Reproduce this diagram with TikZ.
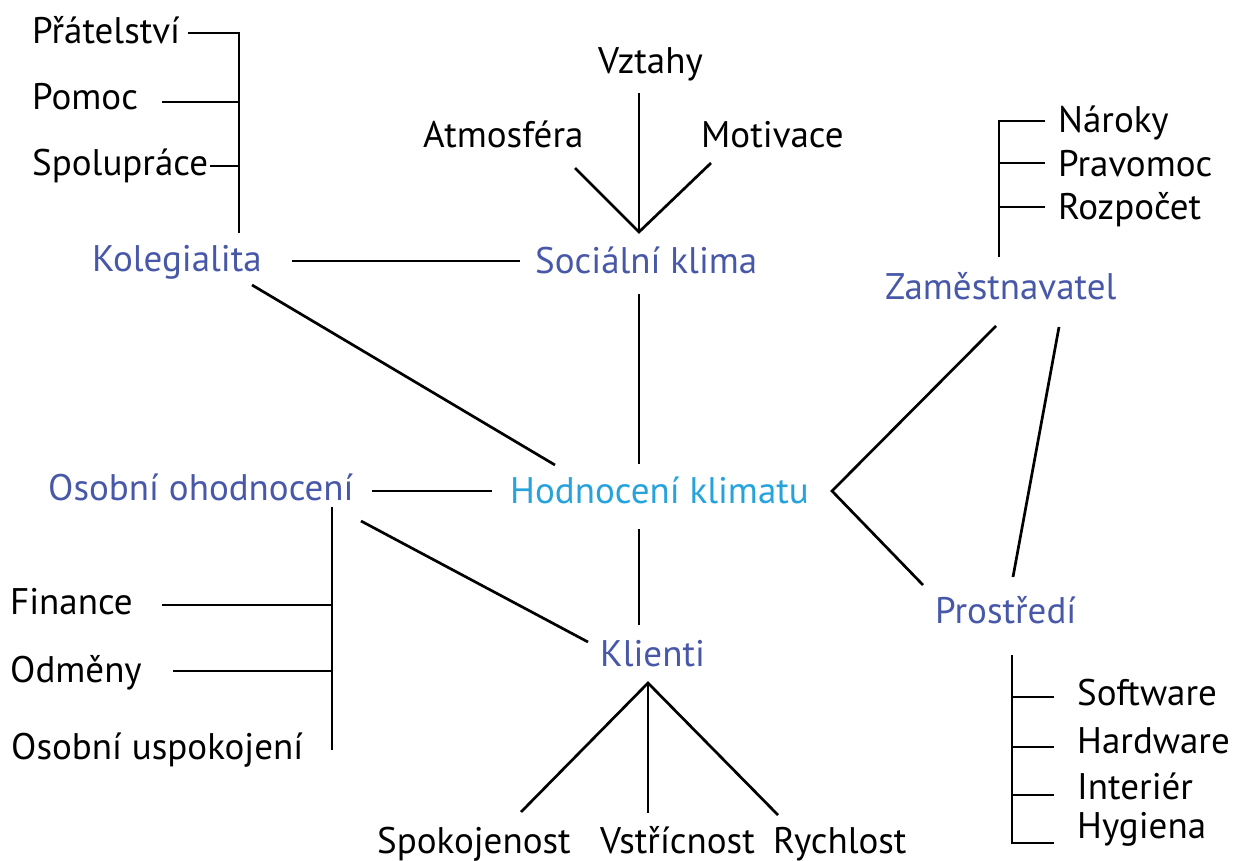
\documentclass[tikz,border=0pt]{standalone}
\usepackage{fontspec}
\setmainfont{PT Sans}
\definecolor{topicblue}{RGB}{72,88,168}
\definecolor{centercyan}{RGB}{38,163,219}
\begin{document}
\begin{tikzpicture}[x=1pt,y=-1pt,
  lbl/.style={anchor=base west,inner sep=0pt,font=\fontsize{37}{43}\selectfont,text=black},
  topic/.style={lbl,text=topicblue},
  hub/.style={lbl,text=centercyan},
  link/.style={line width=2.7pt,line cap=butt,line join=miter}]
\useasboundingbox (0,0) rectangle (1243,861);
% nodes
\node[lbl] (prat) at (32,44) {Přátelství};
\node[lbl] (pomoc) at (32,110) {Pomoc};
\node[lbl] (spol) at (32,176) {Spolupráce};
\node[topic] (kol) at (92,272) {Kolegialita};
\node[topic] (soc) at (535,274) {Sociální klima};
\node[lbl] (vzt) at (598,74) {Vztahy};
\node[lbl] (atm) at (423,148) {Atmosféra};
\node[lbl] (mot) at (701,148) {Motivace};
\node[lbl] (nar) at (1058,133) {Nároky};
\node[lbl] (prav) at (1058,177) {Pravomoc};
\node[lbl] (roz) at (1058,220) {Rozpočet};
\node[topic] (zam) at (885,300) {Zaměstnavatel};
\node[topic] (oso) at (48,500) {Osobní ohodnocení};
\node[hub] (hod) at (510,503) {Hodnocení klimatu};
\node[lbl] (fin) at (10,614) {Finance};
\node[lbl] (odm) at (10,682) {Odměny};
\node[lbl] (usp) at (11,759) {Osobní uspokojení};
\node[topic] (kli) at (600,666) {Klienti};
\node[lbl] (spok) at (377,853) {Spokojenost};
\node[lbl] (vst) at (600,853) {Vstřícnost};
\node[lbl] (rych) at (773,853) {Rychlost};
\node[topic] (pro) at (935,623) {Prostředí};
\node[lbl] (soft) at (1077,705) {Software};
\node[lbl] (hard) at (1077,753) {Hardware};
\node[lbl] (int) at (1077,799) {Interiér};
\node[lbl] (hyg) at (1077,838) {Hygiena};
% junction coordinates
\coordinate (kolTop) at (239,33);
\coordinate (kolBot) at (239,233);
\coordinate (pratE) at (188,33);
\coordinate (pomocE) at (162,102);
\coordinate (spolE) at (210,166);
\coordinate (pomocJ) at (239,102);
\coordinate (spolJ) at (239,166);
\coordinate (kolR) at (292,261);
\coordinate (socL) at (520,261);
\coordinate (vztB) at (639,93);
\coordinate (socTop) at (639,232);
\coordinate (atmE) at (575,168);
\coordinate (motE) at (711,163);
\coordinate (socBot) at (639,294);
\coordinate (hodTop) at (639,464);
\coordinate (kolD) at (252,285);
\coordinate (hodNW) at (555,465);
\coordinate (osoR) at (372,491);
\coordinate (hodL) at (492,491);
\coordinate (osoTop) at (332,507);
\coordinate (osoBot) at (332,750);
\coordinate (finE) at (162,605);
\coordinate (finJ) at (332,605);
\coordinate (odmE) at (173,671);
\coordinate (odmJ) at (332,671);
\coordinate (osoD) at (361,521);
\coordinate (kliNW) at (588,642);
\coordinate (hodBot) at (639,529);
\coordinate (kliTop) at (639,625);
\coordinate (kliApex) at (648,683);
\coordinate (spokE) at (521,812);
\coordinate (vstE) at (648,813);
\coordinate (rychE) at (778,815);
\coordinate (zamTop) at (999,121);
\coordinate (zamBar) at (999,257);
\coordinate (narE) at (1045,121);
\coordinate (pravJ) at (999,163);
\coordinate (pravE) at (1045,163);
\coordinate (rozJ) at (999,207);
\coordinate (rozE) at (1045,207);
\coordinate (zamSW) at (996,326);
\coordinate (hodApex) at (832,491);
\coordinate (proNW) at (923,585);
\coordinate (zamSE) at (1059,327);
\coordinate (proN) at (1013,577);
\coordinate (proTop) at (1012,655);
\coordinate (softJ) at (1012,697);
\coordinate (softE) at (1054,697);
\coordinate (hardJ) at (1012,747);
\coordinate (hardE) at (1054,747);
\coordinate (intJ) at (1012,795);
\coordinate (intE) at (1054,795);
\coordinate (hygJ) at (1012,843);
\coordinate (hygE) at (1054,843);
% connectors
\draw[link] (pratE) -- (kolTop) -- (kolBot);
\draw[link] (pomocE) -- (pomocJ);
\draw[link] (spolE) -- (spolJ);
\draw[link] (kolR) -- (socL);
\draw[link] (vztB) -- (socTop);
\draw[link] (atmE) -- (socTop) -- (motE);
\draw[link] (socBot) -- (hodTop);
\draw[link] (kolD) -- (hodNW);
\draw[link] (osoR) -- (hodL);
\draw[link] (osoTop) -- (osoBot);
\draw[link] (finE) -- (finJ);
\draw[link] (odmE) -- (odmJ);
\draw[link] (osoD) -- (kliNW);
\draw[link] (hodBot) -- (kliTop);
\draw[link] (spokE) -- (kliApex) -- (rychE);
\draw[link] (kliApex) -- (vstE);
\draw[link] (narE) -- (zamTop) -- (zamBar);
\draw[link] (pravJ) -- (pravE);
\draw[link] (rozJ) -- (rozE);
\draw[link] (zamSW) -- (hodApex) -- (proNW);
\draw[link] (zamSE) -- (proN);
\draw[link] (proTop) -- (hygJ) -- (hygE);
\draw[link] (softJ) -- (softE);
\draw[link] (hardJ) -- (hardE);
\draw[link] (intJ) -- (intE);
\end{tikzpicture}
\end{document}
